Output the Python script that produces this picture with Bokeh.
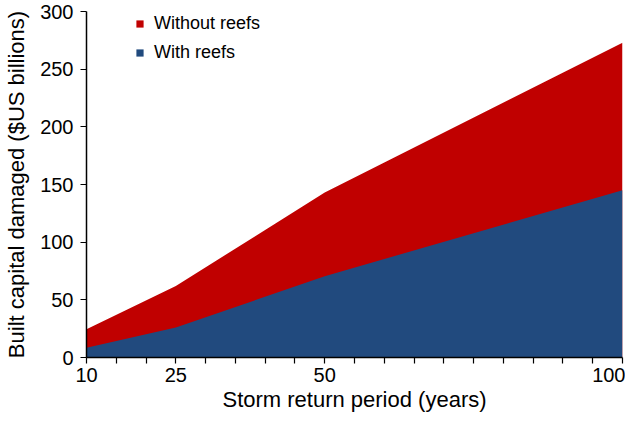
from bokeh.plotting import figure
from bokeh.models import Range1d, FixedTicker, Legend, LegendItem, ColumnDataSource
from bokeh.embed import file_html
from bokeh.resources import INLINE

periods = [10, 25, 50, 100]
without_reefs = [24.5, 62, 143, 273]
with_reefs = [8.5, 26, 70.5, 145]
x_tick_values = list(range(10, 101, 5))
x_tick_labels = {10: "10", 25: "25", 50: "50", 100: "100"}
y_ticks = [0, 50, 100, 150, 200, 250, 300]

src = ColumnDataSource(dict(x=periods, wo=without_reefs, w=with_reefs, z=[0] * len(periods)))

FONT = "Liberation Sans"

p = figure(width=625, height=414, output_backend="svg", toolbar_location=None,
           x_range=Range1d(10, 100), y_range=Range1d(0, 300),
           min_border_left=86, min_border_right=3, min_border_top=11, min_border_bottom=52)
p.outline_line_color = None
p.xgrid.visible = False
p.ygrid.visible = False

r1 = p.varea(x="x", y1="z", y2="wo", source=src, fill_color="#C00000")
r2 = p.varea(x="x", y1="z", y2="w", source=src, fill_color="#214A7E")

p.xaxis.ticker = FixedTicker(ticks=x_tick_values)
p.xaxis.major_label_overrides = {v: x_tick_labels.get(v, "") for v in x_tick_values}
p.yaxis.ticker = FixedTicker(ticks=y_ticks)

for ax in (p.xaxis[0], p.yaxis[0]):
    ax.axis_line_color = "black"
    ax.axis_line_width = 1.5
    ax.major_tick_line_color = "black"
    ax.major_tick_line_width = 1.2
    ax.major_tick_out = 6
    ax.major_tick_in = 0
    ax.minor_tick_line_color = None
    ax.major_label_text_font = FONT
    ax.major_label_text_font_size = "20px"
    ax.major_label_text_color = "black"
    ax.axis_label_text_font = FONT
    ax.axis_label_text_font_size = "22px"
    ax.axis_label_text_font_style = "normal"
    ax.axis_label_text_color = "black"

p.xaxis.axis_label = "Storm return period (years)"
p.yaxis.axis_label = "Built capital damaged ($US billions)"
p.xaxis.major_label_standoff = 4
p.xaxis.axis_label_standoff = 2
p.yaxis.major_label_standoff = 7
p.yaxis.axis_label_standoff = 8

legend = Legend(items=[LegendItem(label="Without reefs", renderers=[r1]),
                       LegendItem(label="With reefs", renderers=[r2])],
                location=(49, 294))
legend.border_line_color = None
legend.background_fill_alpha = 0
legend.label_text_font = FONT
legend.label_text_font_size = "18px"
legend.label_text_color = "black"
legend.label_height = 20
legend.glyph_width = 9
legend.glyph_height = 9
legend.label_standoff = 10
legend.spacing = 8
legend.padding = 0
legend.margin = 0
p.add_layout(legend)

open("out.html", "w").write(file_html(p, INLINE))
